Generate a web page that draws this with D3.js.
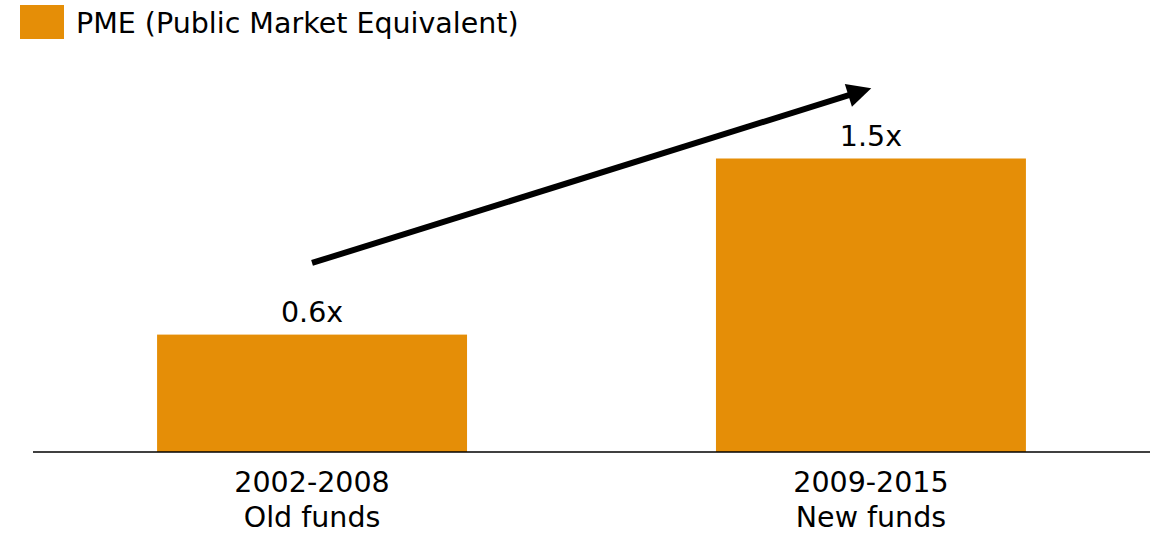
<!DOCTYPE html>
<html>
<head>
<meta charset="utf-8">
<script src="https://cdn.jsdelivr.net/npm/d3@7"></script>
<style>
  body { margin: 0; background: #fff; }
  text { font-family: "DejaVu Sans", sans-serif; fill: #000; }
</style>
</head>
<body>
<svg width="1160" height="533"></svg>
<script>
var periods = ["2002-2008", "2009-2015"];
var subLabels = ["Old funds", "New funds"];
var pme = [0.6, 1.5];
var seriesName = "PME (Public Market Equivalent)";

var svg = d3.select("svg"),
    orange = "#e58e07";

var x = d3.scaleBand().domain(periods).range([33, 1150])
    .paddingInner(0.4454).paddingOuter(0.222);
var y = d3.scaleLinear().domain([0, 1.5]).range([452, 158.5]);

// legend
svg.append("rect").attr("x", 20).attr("y", 5).attr("width", 44).attr("height", 34).attr("fill", orange);
svg.append("text").attr("x", 76).attr("y", 33).attr("font-size", 28.5).text(seriesName);

// bars
svg.selectAll("rect.bar").data(pme).enter().append("rect")
  .attr("class", "bar")
  .attr("x", function(d, i) { return x(periods[i]); })
  .attr("y", function(d) { return y(d); })
  .attr("width", x.bandwidth())
  .attr("height", function(d) { return y(0) - y(d); })
  .attr("fill", orange);

svg.selectAll("text.val").data(pme).enter().append("text")
  .attr("class", "val")
  .attr("x", function(d, i) { return x(periods[i]) + x.bandwidth() / 2; })
  .attr("y", function(d) { return y(d) - 13; })
  .attr("text-anchor", "middle")
  .attr("font-size", 28.5)
  .text(function(d) { return d.toFixed(1) + "x"; });

// baseline
svg.append("line").attr("x1", 33).attr("x2", 1150).attr("y1", y(0)).attr("y2", y(0))
  .attr("stroke", "#000").attr("stroke-width", 1.5);

// category labels
var lab = svg.selectAll("text.cat").data(periods).enter().append("text")
  .attr("class", "cat")
  .attr("text-anchor", "middle")
  .attr("font-size", 28.5);
lab.append("tspan")
  .attr("x", function(d) { return x(d) + x.bandwidth() / 2; })
  .attr("y", 492)
  .text(function(d) { return d; });
lab.append("tspan")
  .attr("x", function(d) { return x(d) + x.bandwidth() / 2; })
  .attr("y", 527)
  .text(function(d, i) { return subLabels[i]; });

// trend arrow
svg.append("defs").append("marker")
  .attr("id", "head").attr("viewBox", "0 0 10 10")
  .attr("refX", 2).attr("refY", 5)
  .attr("markerWidth", 4.2).attr("markerHeight", 4)
  .attr("orient", "auto")
  .append("path").attr("d", "M0,0 L10,5 L0,10 Z").attr("fill", "#000");

var x0 = x(periods[0]) + x.bandwidth() / 2, x1 = x(periods[1]) + x.bandwidth() / 2;
svg.append("line")
  .attr("x1", x0).attr("y1", y(0.966))
  .attr("x2", x1 - 18).attr("y2", y(1.83))
  .attr("stroke", "#000").attr("stroke-width", 6)
  .attr("marker-end", "url(#head)");
</script>
</body>
</html>
